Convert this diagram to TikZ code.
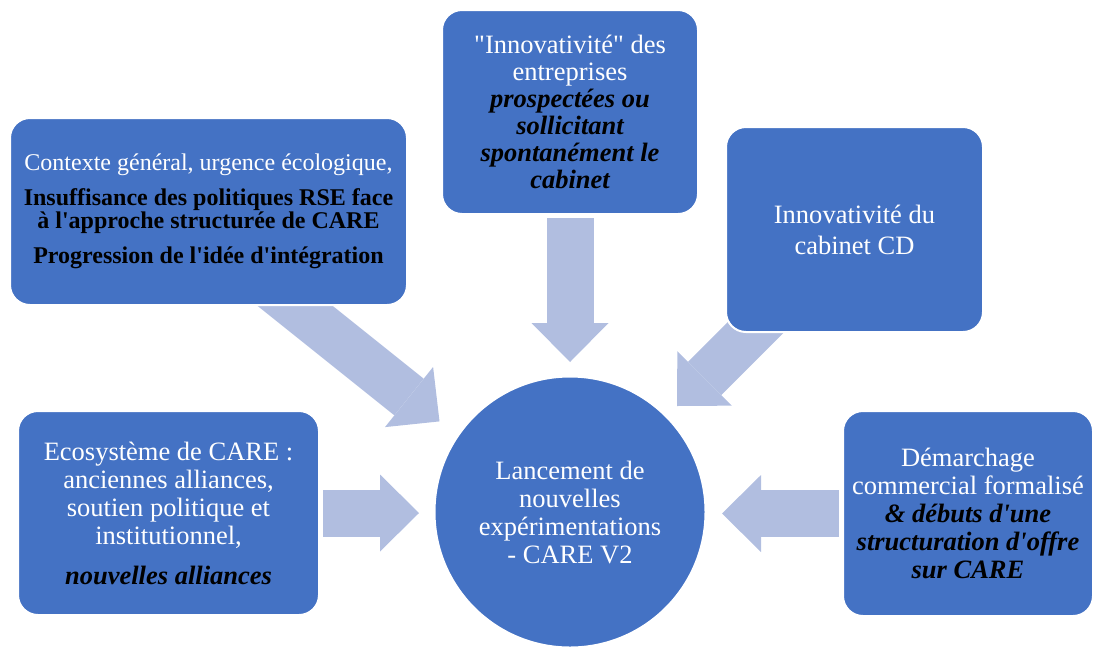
\documentclass[tikz,border=0pt]{standalone}
\usepackage{fontspec}
\setmainfont{Liberation Serif}[Ligatures=TeXOff]
\usepackage{tikz}
\usetikzlibrary{arrows.meta,backgrounds,positioning}
\definecolor{boxblue}{HTML}{4472C4}
\definecolor{arrowblue}{RGB}{177,190,224}
\newcommand{\blk}[1]{\textcolor{black}{\bfseries #1}}
\newcommand{\blkit}[1]{\textcolor{black}{\bfseries\itshape #1}}
\tikzset{
  factorbox/.style={draw=white, line width=2pt, fill=boxblue, rounded corners=20pt, text=white, align=center, inner sep=4pt},
  hubnode/.style={draw=white, line width=2pt, fill=boxblue, circle, text=white, align=center, minimum size=271pt, inner sep=0pt},
  bigarrow/.style={draw=arrowblue, line width=47pt, -{Triangle[length=39pt, width=77pt, line width=0pt]}}
}

\begin{document}
\begin{tikzpicture}[
    x=1pt, y=-1pt, % picture measured in pixels, from the top
    every node/.style={font=\fontsize{26.5}{28}\selectfont}
]
    \useasboundingbox (0,0) rectangle (1094,646);

    % Define nodes
    \node (ctx) [factorbox, minimum width=397pt, minimum height=187pt, font=\fontsize{24}{23.5}\selectfont] at (208.5,211.5)
      {Contexte général, urgence écologique,\\[11pt]
       \blk{Insuffisance des politiques RSE face}\\
       \blk{à l'approche structurée de CARE}\\[11pt]
       \blk{Progression de l'idée d'intégration}};
    \node (entr) [factorbox, minimum width=256pt, minimum height=204pt, font=\fontsize{26.5}{27}\selectfont] at (570,112)
      {"Innovativité" des\\ entreprises\\ \blkit{prospectées ou}\\ \blkit{sollicitant}\\
       \blkit{spontanément le}\\ \blkit{cabinet}};
    \node (cab) [factorbox, minimum width=257pt, minimum height=205pt, font=\fontsize{26.5}{31}\selectfont] at (854.5,229.5)
      {Innovativité du\\ cabinet CD};
    \node (eco) [factorbox, minimum width=301pt, minimum height=204pt] at (168.5,513)
      {Ecosystème de CARE :\\ anciennes alliances,\\ soutien politique et\\ institutionnel,\\[12pt]
       \blkit{nouvelles alliances}};
    \node (dem) [factorbox, minimum width=250pt, minimum height=205pt] at (968,513.5)
      {Démarchage\\ commercial formalisé\\ \blkit{\& débuts d'une}\\ \blkit{structuration d'offre}\\
       \blkit{sur CARE}};
    \node (hub) [hubnode] at (570,512)
      {Lancement de\\ nouvelles\\ expérimentations\\ - CARE V2};

    % Arrow ends
    \coordinate (ctx-tail) at (252,271.4);
    \coordinate (cab-tail) at (783,300);
    \coordinate (hub-nw) at (439.5,421.4);
    \coordinate (hub-n) at (570,362);
    \coordinate (hub-ne) at (677,406);
    \coordinate (hub-w) at (419,513);
    \coordinate (hub-e) at (722,513.5);

    % Draw arrows
    \begin{scope}[on background layer]
      \draw[bigarrow] (ctx-tail) -- (hub-nw);
      \draw[bigarrow] ([yshift=-3pt]entr.south) -- (hub-n);
      \draw[bigarrow] (cab-tail) -- (hub-ne);
      \draw[bigarrow] ([xshift=3pt]eco.east) -- (hub-w);
      \draw[bigarrow] ([xshift=-3pt]dem.west) -- (hub-e);
    \end{scope}

\end{tikzpicture}
\end{document}
